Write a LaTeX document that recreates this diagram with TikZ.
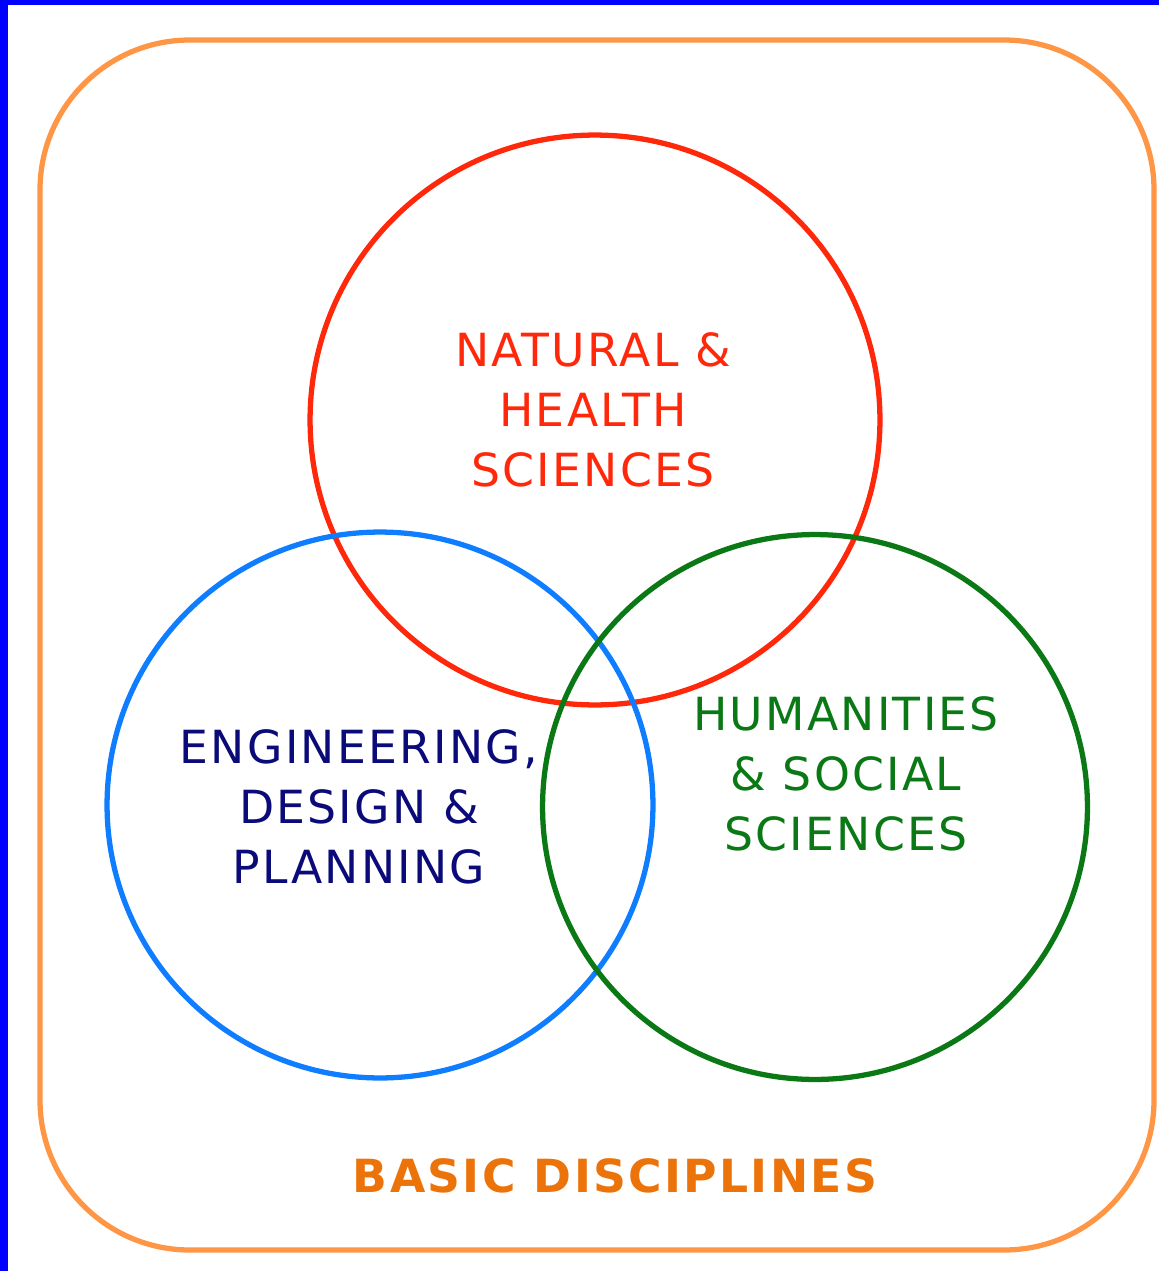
\documentclass[tikz,border=0pt]{standalone}
\usepackage{fontspec}
\setmainfont{DejaVu Sans}[LetterSpace=5]
\definecolor{framecol}{RGB}{0,0,255}
\definecolor{basiccol}{RGB}{255,150,70}
\definecolor{basictext}{RGB}{235,115,10}
\definecolor{natcol}{RGB}{255,40,10}
\definecolor{engcol}{RGB}{15,125,255}
\definecolor{engtext}{RGB}{10,10,120}
\definecolor{humcol}{RGB}{10,120,20}
\tikzset{
    ring/.style={circle, draw, line width=3pt, minimum size=#1, inner sep=0pt},
    field/.style={align=center, font=\fontsize{26}{34}\selectfont},
}
\begin{document}
\begin{tikzpicture}[x=0.02cm, y=-0.02cm]
    \useasboundingbox (0, 0) rectangle (1159, 1271);
    \fill[framecol] (0, 0) rectangle (8, 1271);
    \fill[framecol] (0, 0) rectangle (1159, 5);

    \draw[basiccol, line width=3pt, rounded corners=3cm] (40, 40) rectangle (1154, 1250);

    \node[ring=11.4cm, draw=natcol] (natural) at (595, 420) {};
    \node[ring=10.92cm, draw=engcol] (engineering) at (380, 805) {};
    \node[ring=10.9cm, draw=humcol] (humanities) at (815, 807) {};

    \node[field, text=natcol] (naturaltext) at (593, 410) {NATURAL \&\\HEALTH\\SCIENCES};
    \node[field, text=engtext] (engtext) at (359, 807) {ENGINEERING,\\DESIGN \&\\PLANNING};
    \node[field, text=humcol] (humtext) at (846, 774) {HUMANITIES\\\& SOCIAL\\SCIENCES};

    \node[font=\fontsize{26}{30}\selectfont\bfseries, text=basictext] (basic) at (615, 1176) {BASIC DISCIPLINES};
\end{tikzpicture}
\end{document}
